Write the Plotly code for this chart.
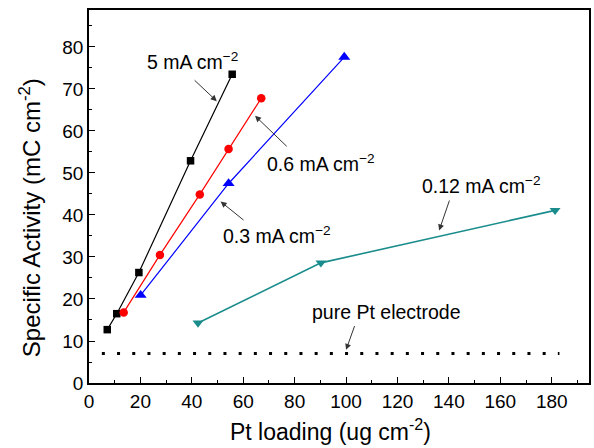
import plotly.graph_objects as go

# Data
x_5mA = [7.1, 10.8, 19.4, 39.5, 55.7]
y_5mA = [12.7, 16.5, 26.3, 52.9, 73.5]
x_06mA = [13.5, 27.6, 43.1, 54.3, 67.0]
y_06mA = [16.8, 30.5, 44.9, 55.7, 67.8]
x_03mA = [20.1, 54.3, 99.3]
y_03mA = [20.9, 47.5, 77.6]
x_012mA = [42.4, 90.2, 181.3]
y_012mA = [14.3, 28.6, 41.1]
x_pure = [5, 183]
y_pure = [7.0, 7.0]

FONT = "Liberation Sans, Arial, sans-serif"

fig = go.Figure()
fig.add_trace(go.Scatter(x=x_5mA, y=y_5mA, mode="lines+markers",
                         line=dict(color="black", width=1.2),
                         marker=dict(symbol="square", size=7.5, color="black")))
fig.add_trace(go.Scatter(x=x_06mA, y=y_06mA, mode="lines+markers",
                         line=dict(color="#ff0000", width=1.2),
                         marker=dict(symbol="circle", size=8.5, color="#ff0000")))
fig.add_trace(go.Scatter(x=x_03mA, y=y_03mA, mode="lines+markers",
                         line=dict(color="#0000ff", width=1.2),
                         marker=dict(symbol="triangle-up", size=10.5, color="#0000ff")))
fig.add_trace(go.Scatter(x=x_012mA, y=y_012mA, mode="lines+markers",
                         line=dict(color="#1a8c8c", width=1.6),
                         marker=dict(symbol="triangle-down", size=9.5, color="#1a8c8c")))
fig.add_trace(go.Scatter(x=x_pure, y=y_pure, mode="lines",
                         line=dict(color="black", width=3, dash="3px,12.2px")))

# arrows: (head_x, head_y, tail_x, tail_y)
arrows = [
    (49.7, 67.1, 40.5, 72.4),
    (64.6, 63.6, 77.5, 56.0),
    (51.2, 43.2, 60.7, 38.5),
    (136.2, 36.3, 140.4, 43.8),
    (100.0, 7.9, 103.5, 13.9),
]
for hx, hy, tx, ty in arrows:
    fig.add_annotation(x=hx, y=hy, ax=tx, ay=ty, xref="x", yref="y",
                       axref="x", ayref="y", text="", showarrow=True,
                       arrowhead=2, arrowsize=1.2, arrowwidth=1, arrowcolor="#333333")

labels = [
    (40.3, 76.6, "5 mA cm<sup>−2</sup>"),
    (90.4, 52.4, "0.6 mA cm<sup>−2</sup>"),
    (73.1, 35.3, "0.3 mA cm<sup>−2</sup>"),
    (152.7, 47.2, "0.12 mA cm<sup>−2</sup>"),
    (115.8, 17.0, "pure Pt electrode"),
]
for lx, ly, t in labels:
    fig.add_annotation(x=lx, y=ly, xref="x", yref="y", text=t, showarrow=False,
                       font=dict(family=FONT, size=19.5, color="black"))

# axis titles as annotations (positioned like the reference)
fig.add_annotation(x=0.482, y=-0.126, xref="paper", yref="paper",
                   text="Pt loading (ug cm<sup>-2</sup>)", showarrow=False,
                   xanchor="center", yanchor="middle",
                   font=dict(family=FONT, size=23, color="black"))
fig.add_annotation(x=-0.118, y=0.442, xref="paper", yref="paper",
                   text="Specific Activity (mC cm<sup>-2</sup>)", showarrow=False,
                   textangle=-90, xanchor="center", yanchor="middle",
                   font=dict(family=FONT, size=24, color="black"))

axis_common = dict(showline=True, linecolor="black", linewidth=1.5, mirror=True,
                   ticks="inside", ticklen=6, tickwidth=1.3, tickcolor="black",
                   showgrid=False, zeroline=False, automargin=False,
                   tickfont=dict(family=FONT, size=19, color="black"),
                   minor=dict(ticks="inside", ticklen=3, tickwidth=1.2, tickcolor="black"))

fig.update_xaxes(range=[0, 194.5], dtick=20, tick0=0, **axis_common)
fig.update_yaxes(range=[0, 88.8], dtick=10, tick0=0, **axis_common)
fig.update_xaxes(minor=dict(dtick=10))
fig.update_yaxes(minor=dict(dtick=5))

fig.update_layout(width=594, height=448, showlegend=False,
                  margin=dict(l=89, r=5, t=10, b=65),
                  paper_bgcolor="white", plot_bgcolor="white")

fig.write_html("out.html", config={"displayModeBar": False},
               post_script="document.body.style.margin='0';document.body.style.overflow='hidden';")
